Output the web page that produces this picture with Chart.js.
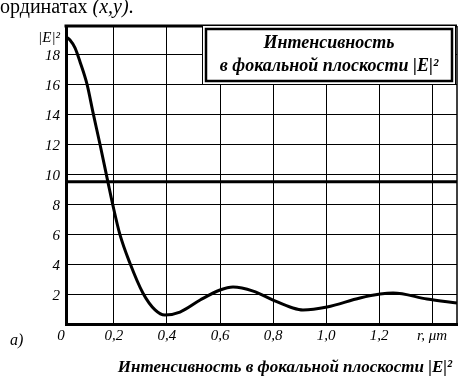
<!DOCTYPE html>
<html>
<head>
<meta charset="utf-8">
<script src="https://cdn.jsdelivr.net/npm/chart.js@4.4.0/dist/chart.umd.min.js"></script>
<style>
  html, body { margin: 0; padding: 0; background: #fff; }
  canvas { display: block; }
</style>
</head>
<body>
<canvas id="chart" width="459" height="377"></canvas>
<script>
// r, μm and |E|^2
const rValues   = [0.019, 0.034, 0.053, 0.072, 0.098, 0.122, 0.147, 0.177, 0.195, 0.222, 0.26, 0.309, 0.355, 0.392, 0.449, 0.525, 0.6, 0.649, 0.725, 0.8, 0.875, 0.913, 1.004, 1.128, 1.204, 1.253, 1.381, 1.494];
const intensity = [19.17, 18.97, 18.44, 17.5, 16.03, 14.03, 12.02, 9.49, 8.0, 6.0, 4.07, 2.07, 0.94, 0.6, 0.8, 1.6, 2.27, 2.47, 2.2, 1.6, 1.07, 0.94, 1.14, 1.74, 2.0, 2.07, 1.67, 1.4];
const levelValue = 9.5;

const xTicks = [0, 0.2, 0.4, 0.6, 0.8, 1.0, 1.2, 1.4];
const xTickLabels = ['0', '0,2', '0,4', '0,6', '0,8', '1,0', '1,2', 'r, μm'];
const yTicks = [0, 2, 4, 6, 8, 10, 12, 14, 16, 18, 19.25];
const yTickLabels = ['', '2', '4', '6', '8', '10', '12', '14', '16', '18', '|E|²'];
const xMin = 0.019, xMax = 1.494, yMax = 19.9;

const legendLines = ['Интенсивность', 'в фокальной плоскости |E|²'];
const captionText = 'Интенсивность в фокальной плоскости |E|²';

const serif = '"Liberation Serif", "DejaVu Serif", serif';

const decorations = {
  id: 'decorations',
  afterDraw(chart) {
    const { ctx, chartArea: a } = chart;
    ctx.save();
    ctx.strokeStyle = '#000';
    // top and right frame
    ctx.lineWidth = 3;
    ctx.beginPath(); ctx.moveTo(a.left - 1.5, a.top); ctx.lineTo(a.right, a.top); ctx.stroke();
    ctx.lineWidth = 1.5;
    ctx.beginPath(); ctx.moveTo(a.right, a.top); ctx.lineTo(a.right, a.bottom); ctx.stroke();

    // legend box, double border
    ctx.fillStyle = '#fff';
    ctx.fillRect(202, 25, 254, 60);
    ctx.lineWidth = 1;
    ctx.strokeRect(202.5, 25.5, 253, 59);
    ctx.lineWidth = 2.5;
    ctx.strokeRect(206, 29, 246, 52);
    ctx.fillStyle = '#000';
    ctx.textAlign = 'center';
    ctx.textBaseline = 'alphabetic';
    ctx.font = 'italic bold 18px ' + serif;
    ctx.fillText(legendLines[0], 329, 48);
    ctx.fillText(legendLines[1], 329, 71);

    // caption below
    ctx.font = 'italic bold 17px ' + serif;
    ctx.fillText(captionText, 285, 372);

    ctx.textAlign = 'left';
    ctx.font = 'italic 16px ' + serif;
    ctx.fillText('а)', 10, 345);

    // line of text above the figure
    ctx.font = '20px ' + serif;
    ctx.fillText('ординатах ', 0, 13);
    const w = ctx.measureText('ординатах ').width;
    ctx.font = 'italic 20px ' + serif;
    ctx.fillText('(x,y)', w, 13);
    const w2 = ctx.measureText('(x,y)').width;
    ctx.font = '20px ' + serif;
    ctx.fillText('.', w + w2, 13);
    ctx.restore();
  }
};

new Chart(document.getElementById('chart'), {
  type: 'line',
  data: {
    datasets: [
      {
        data: rValues.map((r, i) => ({ x: r, y: intensity[i] })),
        borderColor: '#000', borderWidth: 3, pointRadius: 0,
        cubicInterpolationMode: 'monotone', fill: false
      },
      {
        data: [{ x: xMin, y: levelValue }, { x: xMax, y: levelValue }],
        borderColor: '#000', borderWidth: 3, pointRadius: 0, fill: false
      }
    ]
  },
  options: {
    responsive: false, animation: false,
    layout: { padding: { top: 26, right: 2, left: 0, bottom: 0 } },
    plugins: { legend: { display: false }, tooltip: { enabled: false } },
    scales: {
      x: {
        type: 'linear', min: xMin, max: xMax,
        afterBuildTicks: s => { s.ticks = xTicks.map(v => ({ value: v })); },
        afterFit: s => { s.height = 53; },
        grid: { color: c => (c.tick && c.tick.value === 0) ? 'rgba(0,0,0,0)' : '#000', lineWidth: 1, drawTicks: false },
        border: { color: '#000', width: 3 },
        ticks: {
          autoSkip: false, maxRotation: 0, padding: 3, color: '#000',
          font: { family: serif, size: 15, style: 'italic' },
          callback: (v, i) => xTickLabels[i]
        }
      },
      y: {
        min: 0, max: yMax,
        afterBuildTicks: s => { s.ticks = yTicks.map(v => ({ value: v })); },
        afterFit: s => { s.width = 66; },
        grid: { color: c => (c.tick && c.tick.value === 19.25) ? 'rgba(0,0,0,0)' : '#000', lineWidth: 1, drawTicks: false },
        border: { color: '#000', width: 3 },
        ticks: {
          autoSkip: false, padding: 6, labelOffset: 2, color: '#000',
          font: { family: serif, size: 15, style: 'italic' },
          callback: (v, i) => yTickLabels[i]
        }
      }
    }
  },
  plugins: [decorations]
});
</script>
</body>
</html>
